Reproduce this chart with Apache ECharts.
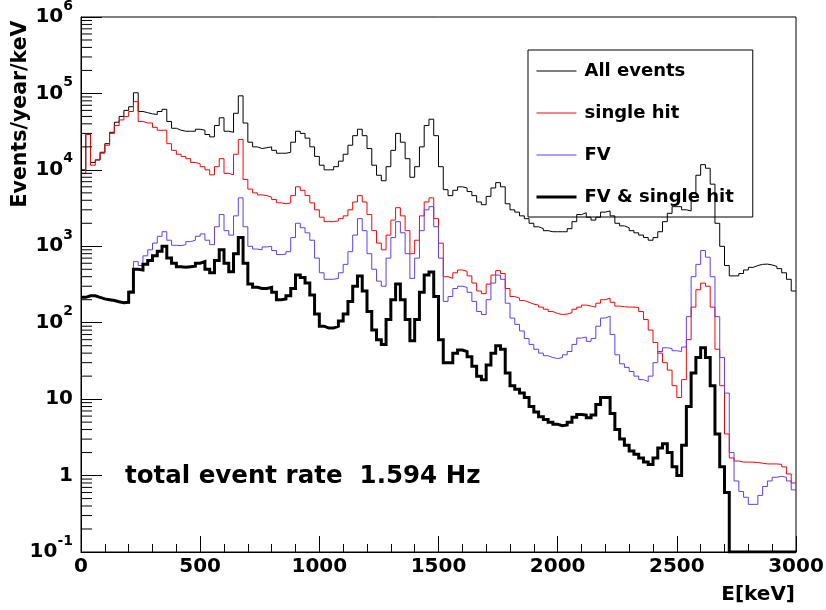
<!DOCTYPE html>
<html>
<head>
<meta charset="utf-8">
<script src="https://cdn.jsdelivr.net/npm/echarts@6/dist/echarts.min.js"></script>
<style>
html,body{margin:0;padding:0;background:#fff;}
#c{width:826px;height:610px;}
</style>
</head>
<body>
<div id="c"></div>
<script>
// ---- data: histogram bins of 20 keV starting at 0 keV ----
const binWidth = 20;

const allEvents = [
 1.0e4, 2.9e4, 1.25e4, 1.35e4, 1.7e4, 2.2e4, 3.1e4, 4.2e4, 5.0e4, 6.0e4,
 6.7e4, 1.02e5, 5.8e4, 5.6e4, 5.4e4, 5.3e4, 5.8e4, 6.2e4, 4.3e4, 3.5e4,
 3.3e4, 3.2e4, 3.2e4, 3.2e4, 3.4e4, 3.3e4, 2.9e4, 2.7e4, 3.8e4, 4.8e4,
 3.2e4, 3.1e4, 5.5e4, 9.3e4, 4.1e4, 2.3e4, 2.0e4, 1.9e4, 1.95e4, 2.0e4,
 1.8e4, 1.65e4, 1.65e4, 1.7e4, 2.3e4, 3.2e4, 3.0e4, 2.6e4, 2.0e4, 1.5e4,
 1.15e4, 1.0e4, 1.0e4, 1.1e4, 1.3e4, 1.6e4, 2.1e4, 2.8e4, 3.4e4, 2.8e4,
 1.9e4, 1.15e4, 8.5e3, 7.2e3, 1.1e4, 1.8e4, 3.0e4, 2.3e4, 1.4e4, 8.0e3,
 1.1e4, 2.0e4, 3.8e4, 4.6e4, 2.8e4, 1.1e4, 5.5e3, 4.6e3, 5.4e3, 6.0e3,
 5.8e3, 5.2e3, 4.6e3, 3.8e3, 3.5e3, 4.5e3, 5.8e3, 6.8e3, 6.0e3, 3.6e3,
 3.0e3, 2.8e3, 2.5e3, 2.3e3, 2.0e3, 1.8e3, 1.7e3, 1.6e3, 1.55e3, 1.55e3,
 1.55e3, 1.55e3, 1.7e3, 2.1e3, 2.6e3, 2.75e3, 2.4e3, 2.2e3, 2.4e3, 2.8e3,
 2.9e3, 2.5e3, 2.0e3, 1.85e3, 1.75e3, 1.6e3, 1.5e3, 1.4e3, 1.3e3, 1.2e3,
 1.3e3, 1.55e3, 2.1e3, 2.7e3, 3.3e3, 3.3e3, 3.0e3, 2.9e3, 5.0e3, 8.5e3,
 1.17e4, 1.05e4, 6.5e3, 2.0e3, 1.0e3, 560, 410, 410, 440, 490,
 530, 560, 580, 585, 570, 545, 510, 450, 370, 260
];

const singleHit = [
 9.0e3, 2.9e4, 1.15e4, 1.35e4, 1.65e4, 2.1e4, 3.0e4, 3.8e4, 4.5e4, 5.0e4,
 5.8e4, 7.8e4, 4.3e4, 4.1e4, 4.1e4, 3.6e4, 3.3e4, 3.3e4, 2.2e4, 1.8e4,
 1.6e4, 1.5e4, 1.4e4, 1.25e4, 1.2e4, 1.1e4, 1.0e4, 8.6e3, 1.1e4, 1.4e4,
 9.0e3, 8.6e3, 1.6e4, 2.5e4, 7.5e3, 5.6e3, 5.0e3, 4.7e3, 4.6e3, 4.4e3,
 4.1e3, 3.7e3, 3.6e3, 3.7e3, 4.6e3, 6.0e3, 5.4e3, 4.6e3, 3.7e3, 3.0e3,
 2.4e3, 2.1e3, 2.1e3, 2.15e3, 2.3e3, 2.5e3, 3.0e3, 3.8e3, 4.6e3, 3.8e3,
 2.6e3, 1.6e3, 1.1e3, 900, 1.4e3, 2.2e3, 3.2e3, 2.5e3, 1.6e3, 800,
 1.2e3, 2.5e3, 3.8e3, 4.3e3, 2.3e3, 1.1e3, 400, 380, 450, 490,
 470, 410, 330, 260, 240, 320, 420, 480, 440, 280,
 220, 210, 195, 185, 175, 170, 160, 150, 140, 132,
 128, 130, 135, 150, 160, 170, 165, 160, 180, 200,
 210, 185, 165, 162, 160, 160, 158, 140, 110, 80,
 55, 40, 30, 24, 15, 10.5, 18, 60, 160, 270,
 330, 300, 160, 45, 15, 3.5, 1.7, 1.55, 1.5, 1.5,
 1.5, 1.48, 1.45, 1.42, 1.42, 1.42, 1.4, 1.3, 1.05, 0.8
];

const fiducialVolume = [
 215, 220, 220, 210, 205, 200, 195, 190, 185, 190,
 260, 630, 560, 750, 900, 1.1e3, 1.35e3, 1.55e3, 1.2e3, 1.03e3,
 1.02e3, 1.05e3, 1.15e3, 1.2e3, 1.35e3, 1.45e3, 1.2e3, 1.05e3, 1.8e3, 2.6e3,
 1.6e3, 1.4e3, 2.5e3, 4.3e3, 1.8e3, 1.0e3, 920, 900, 980, 1.0e3,
 880, 780, 790, 850, 1.3e3, 2.0e3, 1.75e3, 1.5e3, 1.2e3, 700,
 450, 370, 370, 380, 450, 580, 850, 1.4e3, 2.3e3, 1.6e3,
 800, 500, 350, 300, 700, 1.3e3, 2.1e3, 1.5e3, 800, 380,
 700, 1.6e3, 3.0e3, 3.3e3, 1.8e3, 700, 190, 220, 280, 300,
 290, 250, 190, 140, 128, 200, 330, 420, 370, 180,
 115, 95, 78, 62, 52, 45, 40, 37, 35, 34,
 35, 38, 42, 52, 63, 65, 57, 62, 90, 115,
 122, 70, 38, 29, 26, 23, 20, 18, 17, 20,
 30, 42, 47, 46, 43, 42, 48, 120, 400, 580,
 880, 720, 400, 120, 35, 12, 2.0, 0.85, 0.62, 0.52,
 0.42, 0.42, 0.55, 0.72, 0.85, 0.95, 0.98, 0.95, 0.85, 0.65
];

const fvSingleHit = [
 215, 225, 225, 215, 205, 200, 195, 188, 182, 185,
 250, 500, 490, 580, 650, 750, 860, 1.0e3, 700, 600,
 540, 530, 540, 550, 600, 630, 500, 450, 650, 900,
 600, 465, 800, 1.3e3, 600, 320, 290, 280, 280, 290,
 250, 200, 205, 225, 280, 420, 390, 330, 230, 130,
 90, 85, 85, 90, 105, 130, 190, 300, 410, 260,
 140, 80, 60, 52, 110, 200, 320, 200, 110, 58,
 110, 250, 420, 460, 220, 60, 30, 30, 40, 44,
 42, 36, 27, 20, 18, 28, 40, 50, 45, 22,
 15, 13.5, 12, 10.5, 8, 6.8, 5.9, 5.4, 5.0, 4.7,
 4.5, 4.6, 5.0, 5.8, 6.3, 6.2, 5.7, 6.2, 8.5, 10.5,
 10.5, 6.5, 4.0, 3.0, 2.5, 2.1, 1.9, 1.7, 1.5, 1.4,
 1.7, 2.3, 2.6, 2.0, 1.3, 1.0, 2.5, 8, 22, 35,
 47, 35, 15, 3.5, 1.3, 0.6, 0.1, 0.1, 0.1, 0.1,
 0.1, 0.1, 0.1, 0.1, 0.1, 0.1, 0.1, 0.1, 0.1, 0.1
];

const seriesNames = ['All events', 'single hit', 'FV', 'FV & single hit'];
const xTickLabels = [0, 500, 1000, 1500, 2000, 2500, 3000];
const yDecades = [-1, 0, 1, 2, 3, 4, 5, 6];
const yMinorMultipliers = [2, 3, 4, 5, 6, 7, 8, 9];
const totalRateText = 'total event rate  1.594 Hz';
const xTitle = 'E[keV]';
const yTitle = 'Events/year/keV';

// ---- build ----
const FONT = 'DejaVu Sans';
function toPairs(arr) {
  const pts = arr.map((v, i) => [i * binWidth, v]);
  pts.push([arr.length * binWidth, arr[arr.length - 1]]);
  return pts;
}
const minorTickValues = [];
yDecades.slice(0, -1).forEach(d => yMinorMultipliers.forEach(m => minorTickValues.push([0, m * Math.pow(10, d)])));

function hist(name, arr, color, width, z) {
  return {
    name, type: 'line', step: 'end', symbol: 'none', showSymbol: false,
    data: toPairs(arr), z, animation: false, silent: true,
    lineStyle: { color, width, join: 'miter' }, itemStyle: { color }
  };
}

const chart = echarts.init(document.getElementById('c'), null, { renderer: 'canvas' });
chart.setOption({
  backgroundColor: '#fff',
  animation: false,
  grid: { left: 81, right: 30, top: 17, bottom: 58, show: true, borderColor: '#000', borderWidth: 1,
          containLabel: false, outerBoundsMode: 'none' },
  xAxis: {
    type: 'value', min: xTickLabels[0], max: xTickLabels[xTickLabels.length - 1], interval: 500,
    axisLine: { lineStyle: { color: '#000', width: 1 } },
    axisTick: { inside: true, length: 16, lineStyle: { color: '#000', width: 1 } },
    minorTick: { show: true, splitNumber: 5, length: 8, lineStyle: { color: '#000', width: 1 } },
    splitLine: { show: false },
    axisLabel: { fontFamily: FONT, fontWeight: 'bold', fontSize: 20, color: '#000', margin: 5,
                 formatter: function (v) { return String(v); } }
  },
  yAxis: {
    type: 'log', logBase: 10, min: 0.1, max: 1e6, splitNumber: 7,
    axisLine: { lineStyle: { color: '#000', width: 1 } },
    axisTick: { inside: true, length: 21, lineStyle: { color: '#000', width: 1 } },
    splitLine: { show: false },
    minorTick: { show: false },
    axisLabel: {
      margin: 8, color: '#000',
      formatter: function (v) {
        const e = Math.round(Math.log10(v));
        if (e === 0) return '{p|1}';
        if (e === 1) return '{p|10}';
        return '{b|10}{s|' + e + '}';
      },
      rich: {
        p: { fontFamily: FONT, fontWeight: 'bold', fontSize: 20, color: '#000', lineHeight: 22 },
        b: { fontFamily: FONT, fontWeight: 'bold', fontSize: 20, color: '#000', lineHeight: 36 },
        s: { fontFamily: FONT, fontWeight: 'bold', fontSize: 14, color: '#000', lineHeight: 14, verticalAlign: 'top' }
      }
    }
  },
  legend: {
    orient: 'vertical', left: 528, top: 50,
    data: seriesNames,
    itemWidth: 40, itemHeight: 18, itemGap: 24,
    padding: [12, 19, 11, 7],
    borderColor: '#000', borderWidth: 1, backgroundColor: 'transparent',
    selectedMode: false,
    itemStyle: { opacity: 0 },
    lineStyle: { width: 'inherit' },
    textStyle: { fontFamily: FONT, fontWeight: 'bold', fontSize: 18, color: '#000', padding: [0, 0, 0, 3] }
  },
  graphic: [
    { type: 'text', x: 125, y: 477, silent: true,
      style: { text: totalRateText, font: 'bold 24.5px "DejaVu Sans"', fill: '#000', align: 'left', verticalAlign: 'middle' } },
    { type: 'text', x: 795, y: 595, silent: true,
      style: { text: xTitle, font: 'bold 20px "DejaVu Sans"', fill: '#000', align: 'right', verticalAlign: 'middle' } },
    { type: 'text', x: 21, y: 114, rotation: Math.PI / 2, silent: true,
      style: { text: yTitle, font: 'bold 20.5px "DejaVu Sans"', fill: '#000', align: 'center', verticalAlign: 'middle' } }
  ],
  series: [
    hist(seriesNames[0], allEvents, '#000000', 1, 2),
    hist(seriesNames[1], singleHit, '#ff0000', 1, 3),
    hist(seriesNames[2], fiducialVolume, '#5f3cff', 1, 4),
    hist(seriesNames[3], fvSingleHit, '#000000', 3, 5),
    {
      type: 'custom', name: 'yMinorTicks', silent: true, z: 6, animation: false,
      data: minorTickValues, encode: { x: 0, y: 1 },
      renderItem: function (params, api) {
        const p = api.coord([api.value(0), api.value(1)]);
        return { type: 'line', shape: { x1: p[0], y1: p[1], x2: p[0] + 11, y2: p[1] },
                 style: { stroke: '#000', lineWidth: 1 } };
      }
    }
  ]
});
</script>
</body>
</html>
